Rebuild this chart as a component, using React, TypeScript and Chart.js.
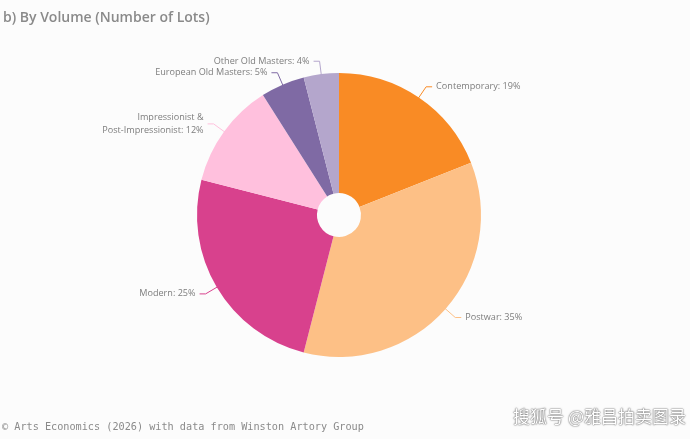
import React, { useEffect, useRef } from "react";
import { Chart, registerables, Plugin } from "chart.js";

Chart.register(...registerables);

const categories = [
  "Contemporary",
  "Postwar",
  "Modern",
  "Impressionist & Post-Impressionist",
  "European Old Masters",
  "Other Old Masters",
];
const shares = [19, 35, 25, 12, 5, 4];
const colors = ["#f98b25", "#fdc086", "#d8418d", "#ffc0dd", "#7f6aa4", "#b4a6cc"];
// labels drawn next to the slices (multi-line where the original wraps)
const labelLines = [
  ["Contemporary: 19%"],
  ["Postwar: 35%"],
  ["Modern: 25%"],
  ["Impressionist &", "Post-Impressionist: 12%"],
  ["European Old Masters: 5%"],
  ["Other Old Masters: 4%"],
];

const calloutPlugin: Plugin<"doughnut"> = {
  id: "callouts",
  afterDatasetsDraw(chart) {
    const ctx = chart.ctx;
    const meta = chart.getDatasetMeta(0);
    ctx.save();
    ctx.font = "9.1px 'Open Sans', sans-serif";
    ctx.textBaseline = "middle";
    meta.data.forEach((arc: any, i) => {
      const { x, y, startAngle, endAngle, outerRadius } = arc.getProps(
        ["x", "y", "startAngle", "endAngle", "outerRadius"],
        true
      );
      const mid = (startAngle + endAngle) / 2;
      const cos = Math.cos(mid);
      const sin = Math.sin(mid);
      const x0 = x + cos * (outerRadius - 2);
      const y0 = y + sin * (outerRadius - 2);
      const x1 = x + cos * (outerRadius + 13);
      const y1 = y + sin * (outerRadius + 13);
      const right = cos >= 0;
      const x2 = x1 + (right ? 6 : -6);

      ctx.strokeStyle = colors[i];
      ctx.lineWidth = 1;
      ctx.beginPath();
      ctx.moveTo(x0, y0);
      ctx.lineTo(x1, y1);
      ctx.lineTo(x2, y1);
      ctx.stroke();

      ctx.fillStyle = "#7d7d7d";
      ctx.textAlign = right ? "left" : "right";
      const lines = labelLines[i];
      const lh = 13;
      lines.forEach((line, j) => {
        const ly = y1 + (j - (lines.length - 1) / 2) * lh;
        ctx.fillText(line, x2 + (right ? 4 : -4), ly);
      });
    });
    ctx.restore();
  },
};

const VolumeChart: React.FC = () => {
  const canvasRef = useRef<HTMLCanvasElement | null>(null);
  const chartRef = useRef<Chart | null>(null);

  useEffect(() => {
    if (!canvasRef.current) return;
    if (chartRef.current) chartRef.current.destroy();
    const ctx = canvasRef.current.getContext("2d");
    if (!ctx) return;

    chartRef.current = new Chart(ctx, {
      type: "doughnut",
      data: {
        labels: categories,
        datasets: [
          {
            data: shares,
            backgroundColor: colors,
            borderWidth: 0,
          },
        ],
      },
      options: {
        animation: false,
        responsive: false,
        cutout: "15.5%",
        layout: { padding: { top: 73, bottom: 82, left: 0, right: 12 } },
        plugins: {
          legend: { display: false },
          tooltip: { enabled: false },
        },
      },
      plugins: [calloutPlugin],
    });

    return () => {
      if (chartRef.current) {
        chartRef.current.destroy();
        chartRef.current = null;
      }
    };
  }, []);

  return <canvas ref={canvasRef} width={690} height={439} style={{ position: "absolute", left: 0, top: 0 }} />;
};

const App: React.FC = () => {
  return (
    <div
      style={{
        position: "fixed",
        left: 0,
        top: 0,
        width: 690,
        height: 439,
        background: "#fcfcfc",
        overflow: "hidden",
      }}
    >
      <VolumeChart />
      <div
        style={{
          position: "absolute",
          left: 3,
          top: 7,
          fontFamily: "'Open Sans', sans-serif",
          fontWeight: 600,
          fontSize: 14,
          color: "#8a8a8a",
          whiteSpace: "nowrap",
        }}
      >
        b) By Volume (Number of Lots)
      </div>
      <div
        style={{
          position: "absolute",
          left: 2,
          top: 421,
          fontFamily: "'DejaVu Sans Mono', monospace",
          fontSize: 10.2,
          color: "#8a8a8a",
          whiteSpace: "nowrap",
        }}
      >
        © Arts Economics (2026) with data from Winston Artory Group
      </div>
      <div
        style={{
          position: "absolute",
          right: 4,
          top: 403,
          fontFamily: "'Noto Sans CJK SC', sans-serif",
          fontSize: 17,
          color: "#ffffff",
          textShadow: "0 0 2px #666, 0 0 1px #444",
          whiteSpace: "nowrap",
        }}
      >
        搜狐号 @雅昌拍卖图录
      </div>
    </div>
  );
};

export default App;
